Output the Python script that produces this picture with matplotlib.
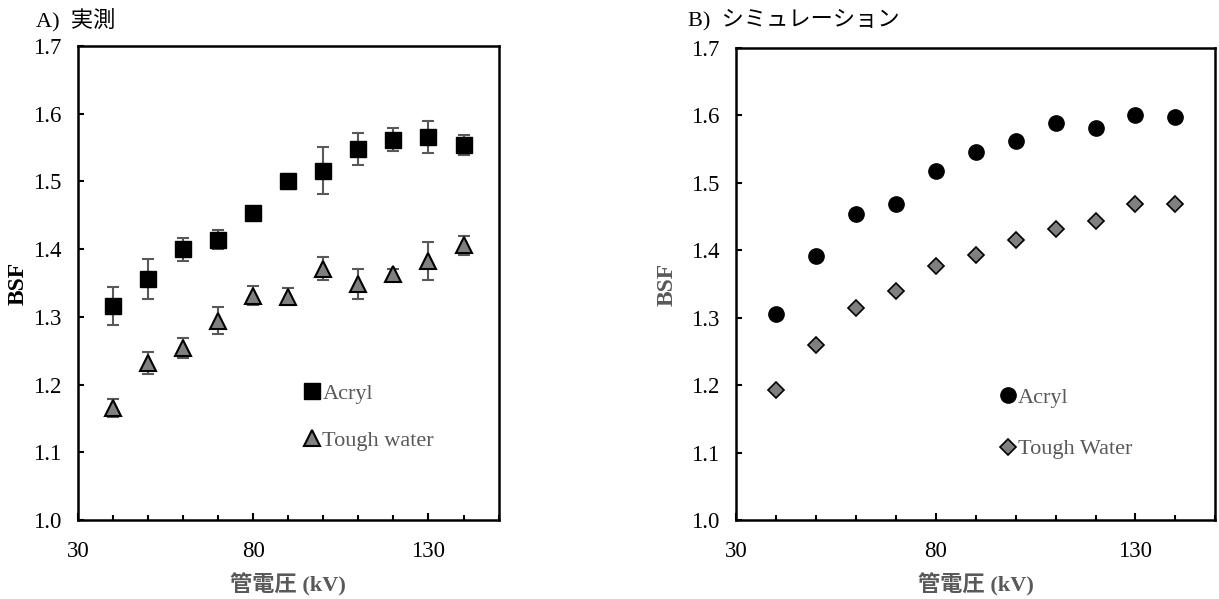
import matplotlib
matplotlib.use("Agg")
from matplotlib import pyplot as plt
from matplotlib.ticker import MultipleLocator, FixedLocator, FormatStrFormatter

plt.rcParams['font.family'] = ['Liberation Serif', 'Noto Sans CJK JP']

# tube voltage (kV)
kv = [40, 50, 60, 70, 80, 90, 100, 110, 120, 130, 140]
x_ticks = [30, 80, 130]

# A) measured
acryl_meas = [1.316, 1.356, 1.400, 1.414, 1.453, 1.500, 1.516, 1.548, 1.562, 1.566, 1.554]
acryl_err = [0.028, 0.029, 0.017, 0.014, 0.005, 0.011, 0.035, 0.024, 0.017, 0.024, 0.015]
tough_meas = [1.165, 1.232, 1.254, 1.294, 1.331, 1.330, 1.371, 1.349, 1.363, 1.383, 1.406]
tough_err = [0.013, 0.016, 0.015, 0.020, 0.014, 0.013, 0.017, 0.022, 0.008, 0.028, 0.014]

# B) simulation
acryl_sim = [1.306, 1.391, 1.454, 1.468, 1.517, 1.545, 1.562, 1.588, 1.581, 1.600, 1.598]
tough_sim = [1.193, 1.259, 1.314, 1.340, 1.377, 1.393, 1.415, 1.431, 1.444, 1.468, 1.469]

GRAY = '#595959'

fig = plt.figure(figsize=(12.19, 5.99), dpi=100)
ax1 = fig.add_axes([0.064, 0.132, 0.345, 0.791])
ax2 = fig.add_axes([0.604, 0.132, 0.393, 0.788])


def style(ax, ylab_color, ylab_pad):
    ax.set_xlim(30, 150)
    ax.set_ylim(1.0, 1.7)
    ax.xaxis.set_major_locator(FixedLocator(x_ticks))
    ax.xaxis.set_minor_locator(MultipleLocator(10))
    ax.yaxis.set_major_locator(MultipleLocator(0.1))
    ax.yaxis.set_major_formatter(FormatStrFormatter('%.1f'))
    ax.tick_params(axis='both', which='both', direction='in', width=1.5,
                   labelsize=16.5, top=False, right=False)
    ax.tick_params(axis='x', which='major', length=5, pad=15)
    ax.tick_params(axis='x', which='minor', length=3.5)
    ax.tick_params(axis='y', which='major', length=4.5, pad=12)
    for sp in ax.spines.values():
        sp.set_linewidth(1.8)
    ax.set_xlabel('管電圧 (kV)', fontsize=16, fontweight='bold', color=GRAY, labelpad=8)
    ax.set_ylabel('BSF', fontsize=17, fontweight='bold', color=ylab_color, labelpad=ylab_pad)


# A) measured
ax1.errorbar(kv, acryl_meas, yerr=acryl_err, fmt='none', ecolor=GRAY,
             elinewidth=1.5, capsize=4, capthick=1.5, zorder=2)
ax1.errorbar(kv, tough_meas, yerr=tough_err, fmt='none', ecolor=GRAY,
             elinewidth=1.5, capsize=4, capthick=1.5, zorder=2)
ax1.plot(kv, acryl_meas, 's', ms=12, mfc='black', mec='black', label='Acryl', zorder=3)
ax1.plot(kv, tough_meas, '^', ms=11, mfc='#808080', mec='black', mew=1.5,
         label='Tough water', zorder=3)
style(ax1, 'black', 3)
ax1.legend(loc='upper left', bbox_to_anchor=(0.515, 0.307), frameon=False, fontsize=16,
           labelcolor=GRAY, handlelength=0.8, handletextpad=0.05, labelspacing=1.2,
           borderaxespad=0)

# B) simulation
ax2.plot(kv, acryl_sim, 'o', ms=11, mfc='black', mec='black', label='Acryl')
ax2.plot(kv, tough_sim, 'D', ms=8, mfc='#808080', mec='black', mew=1.2, label='Tough Water')
style(ax2, GRAY, 10)
ax2.legend(loc='upper left', bbox_to_anchor=(0.53, 0.30), frameon=False, fontsize=16,
           labelcolor=GRAY, handlelength=0.8, handletextpad=0.05, labelspacing=1.4,
           borderaxespad=0)

fig.text(36 / 1219, 1 - 20 / 599, 'A)  実測', fontsize=16, va='center', ha='left')
fig.text(688 / 1219, 1 - 20 / 599, 'B)  シミュレーション', fontsize=16, va='center', ha='left')

fig.savefig('out.png', dpi=100)
